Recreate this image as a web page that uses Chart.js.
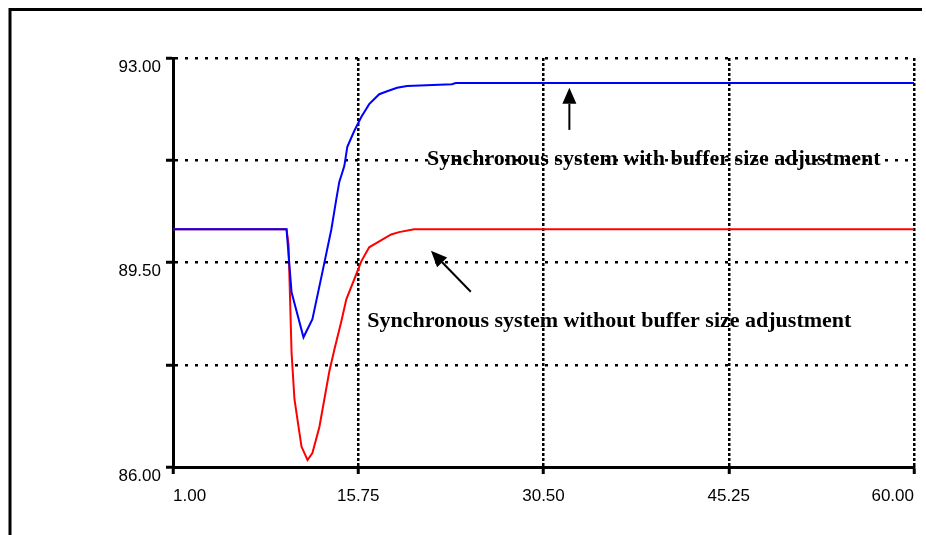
<!DOCTYPE html>
<html>
<head>
<meta charset="utf-8">
<title>Synchronous system chart</title>
<script src="https://cdn.jsdelivr.net/npm/chart.js@4/dist/chart.umd.min.js"></script>
<style>
  body { margin: 0; background: #fff; }
  #wrap { width: 926px; height: 535px; }
</style>
</head>
<body>
<div id="wrap"><canvas id="chart" width="926" height="535"></canvas></div>
<script>
// values
const withX = [1, 10.04, 10.44, 11.39, 12.10, 12.90, 13.61, 14.0, 14.24, 14.64, 14.88, 15.43, 15.99, 16.62, 17.42, 18.05, 18.84, 19.64, 23.2, 23.52, 60];
const withY = [90.07, 90.07, 88.99, 88.22, 88.53, 89.34, 90.07, 90.58, 90.88, 91.15, 91.48, 91.75, 91.99, 92.21, 92.38, 92.43, 92.49, 92.52, 92.55, 92.57, 92.57];

const withoutX = [1, 10.04, 10.2, 10.44, 10.67, 11.23, 11.71, 12.10, 12.66, 13.05, 13.45, 13.85, 14.4, 14.8, 15.43, 15.99, 16.62, 17.42, 18.37, 19.0, 20.2, 60];
const withoutY = [90.07, 90.07, 89.81, 87.96, 87.16, 86.35, 86.12, 86.24, 86.69, 87.16, 87.64, 88.01, 88.49, 88.87, 89.21, 89.52, 89.76, 89.86, 89.98, 90.02, 90.07, 90.07];

const xTicks = [1, 15.75, 30.5, 45.25, 60];
const yTicks = [86, 87.75, 89.5, 91.25, 93];
const yLabelled = [86, 89.5, 93];

// notes and arrows, in data units
const labelWith = { text: "Synchronous system with buffer size adjustment", x: 21.22, y: 91.17 };
const labelWithout = { text: "Synchronous system without buffer size adjustment", x: 16.46, y: 88.40 };
const arrowWith = { fromX: 32.56, fromY: 91.77, toX: 32.56, toY: 92.49 };
const arrowWithout = { fromX: 24.71, fromY: 89.0, toX: 21.54, toY: 89.70 };

function toPoints(xs, ys) {
    return xs.map((x, i) => ({ x: x, y: ys[i] }));
}

function drawArrow(ctx, x1, y1, x2, y2) {
    const ang = Math.atan2(y2 - y1, x2 - x1);
    const len = 16, half = 7;
    const bx = x2 - len * Math.cos(ang);
    const by = y2 - len * Math.sin(ang);
    ctx.beginPath();
    ctx.moveTo(x1, y1);
    ctx.lineTo(bx, by);
    ctx.stroke();
    ctx.beginPath();
    ctx.moveTo(x2, y2);
    ctx.lineTo(bx + half * Math.sin(ang), by - half * Math.cos(ang));
    ctx.lineTo(bx - half * Math.sin(ang), by + half * Math.cos(ang));
    ctx.closePath();
    ctx.fill();
}

const extras = {
    id: 'extras',
    beforeDraw(chart) {
        const ctx = chart.ctx;
        ctx.save();
        ctx.fillStyle = '#fff';
        ctx.fillRect(0, 0, chart.width, chart.height);
        // outer frame (top and left edges)
        ctx.strokeStyle = '#000';
        ctx.lineWidth = 3;
        ctx.beginPath();
        ctx.moveTo(10, 535);
        ctx.lineTo(10, 9.5);
        ctx.lineTo(922, 9.5);
        ctx.stroke();
        ctx.restore();
    },
    afterDraw(chart) {
        const ctx = chart.ctx;
        const xs = chart.scales.x, ys = chart.scales.y;
        ctx.save();
        ctx.fillStyle = '#000';
        ctx.strokeStyle = '#000';
        ctx.lineWidth = 2;
        ctx.font = 'bold 22px "Liberation Serif", "Times New Roman", serif';
        ctx.textBaseline = 'alphabetic';
        ctx.textAlign = 'left';
        [labelWith, labelWithout].forEach(l => {
            ctx.fillText(l.text, xs.getPixelForValue(l.x), ys.getPixelForValue(l.y));
        });
        [arrowWith, arrowWithout].forEach(a => {
            drawArrow(ctx, xs.getPixelForValue(a.fromX), ys.getPixelForValue(a.fromY),
                xs.getPixelForValue(a.toX), ys.getPixelForValue(a.toY));
        });
        ctx.restore();
    }
};

const data = {
    datasets: [
        {
            label: 'with buffer size adjustment',
            data: toPoints(withX, withY),
            borderColor: 'rgb(0, 0, 255)',
            borderWidth: 2,
            pointRadius: 0,
            tension: 0
        },
        {
            label: 'without buffer size adjustment',
            data: toPoints(withoutX, withoutY),
            borderColor: 'rgb(255, 0, 0)',
            borderWidth: 2,
            pointRadius: 0,
            tension: 0
        }
    ]
};

const config = {
    type: 'line',
    data: data,
    options: {
        responsive: false,
        animation: false,
        layout: { padding: { left: 0, right: 9, top: 58, bottom: 0 } },
        plugins: {
            legend: { display: false },
            tooltip: { enabled: false }
        },
        scales: {
            x: {
                type: 'linear',
                min: 1,
                max: 60,
                afterBuildTicks: (scale) => { scale.ticks = xTicks.map(v => ({ value: v })); },
                afterFit: (scale) => { scale.height = 68; },
                border: { display: true, color: '#000', width: 3, dash: [3, 2] },
                grid: { color: '#000', lineWidth: 2.5, drawTicks: true, tickLength: 7, tickColor: '#000', tickWidth: 3, tickBorderDash: [] },
                ticks: {
                    align: 'inner',
                    maxRotation: 0,
                    padding: 12,
                    color: '#000',
                    font: { family: '"Liberation Sans", Arial, sans-serif', size: 17 },
                    callback: (v) => Number(v).toFixed(2)
                }
            },
            y: {
                type: 'linear',
                min: 86,
                max: 93,
                afterBuildTicks: (scale) => { scale.ticks = yTicks.map(v => ({ value: v })); },
                afterFit: (scale) => { scale.width = 173; },
                border: { display: true, color: '#000', width: 3, dash: [3, 7] },
                grid: { color: '#000', lineWidth: 2.5, drawTicks: true, tickLength: 7, tickColor: '#000', tickWidth: 3, tickBorderDash: [] },
                ticks: {
                    padding: 5,
                    labelOffset: 9,
                    color: '#000',
                    font: { family: '"Liberation Sans", Arial, sans-serif', size: 17 },
                    callback: (v) => yLabelled.some(t => Math.abs(t - v) < 1e-6) ? Number(v).toFixed(2) : ''
                }
            }
        }
    },
    plugins: [extras]
};

const ctx = document.getElementById('chart').getContext('2d');
const chart = new Chart(ctx, config);
</script>
</body>
</html>
